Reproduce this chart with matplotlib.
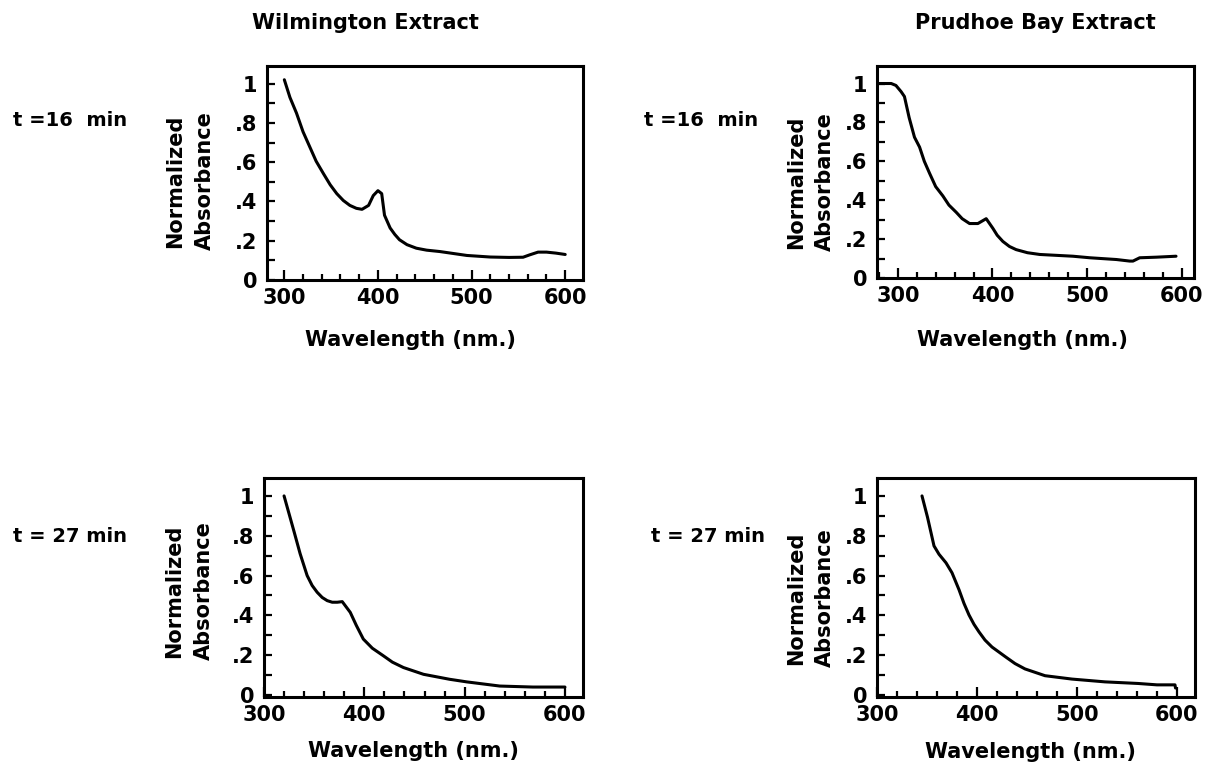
import numpy as np
import matplotlib
matplotlib.use("Agg")
from matplotlib import pyplot as plt
from matplotlib.ticker import MultipleLocator, FixedLocator

# ---- data ----
wl_wil16 = [300, 306, 313, 320, 327, 334, 342, 349, 356, 363, 370, 377, 383, 390, 395, 400,
            404, 407, 413, 418, 423, 431, 441, 452, 466, 495, 520, 540, 555, 562, 571, 580,
            590, 600]
ab_wil16 = [1.02, 0.93, 0.85, 0.755, 0.68, 0.605, 0.54, 0.485, 0.44, 0.405, 0.38, 0.365,
            0.36, 0.38, 0.43, 0.455, 0.44, 0.33, 0.265, 0.232, 0.205, 0.18, 0.162, 0.152,
            0.145, 0.125, 0.117, 0.115, 0.116, 0.128, 0.142, 0.142, 0.137, 0.13]

wl_pru16 = [279, 293, 298, 303.5, 307, 312, 317.6, 323, 328, 333.5, 340, 347.6, 354, 361.7,
            368, 375.8, 384.6, 393.4, 400.5, 405, 411, 418, 425, 437, 450, 485, 503, 531,
            545, 548.5, 555.6, 573, 594]
ab_pru16 = [1.0, 1.0, 0.99, 0.958, 0.933, 0.824, 0.724, 0.673, 0.6, 0.539, 0.47, 0.422,
            0.375, 0.338, 0.305, 0.28, 0.28, 0.305, 0.255, 0.22, 0.188, 0.162, 0.146, 0.13,
            0.121, 0.112, 0.104, 0.095, 0.087, 0.087, 0.104, 0.107, 0.112]

wl_wil27 = [320, 325, 330, 336, 343, 348, 353, 358, 363, 368, 373, 378, 386, 392, 399, 408,
            419, 428, 439, 459, 485, 502, 535, 568, 600]
ab_wil27 = [1.0, 0.91, 0.82, 0.71, 0.6, 0.55, 0.516, 0.49, 0.474, 0.466, 0.466, 0.469,
            0.415, 0.35, 0.281, 0.235, 0.197, 0.165, 0.138, 0.104, 0.079, 0.066, 0.045,
            0.04, 0.04]

wl_pru27 = [345, 350.5, 357, 362, 369, 375, 382, 387, 392, 397, 402, 408, 415, 429, 438,
            448, 468, 495, 528, 561, 580, 598, 598.5]
ab_pru27 = [1.0, 0.893, 0.749, 0.707, 0.664, 0.614, 0.529, 0.46, 0.402, 0.355, 0.317, 0.276,
            0.241, 0.19, 0.158, 0.131, 0.097, 0.08, 0.066, 0.058, 0.051, 0.051, 0.035]

ytick_vals = [0, 0.2, 0.4, 0.6, 0.8, 1.0]
ytick_labels = ["0", ".2", ".4", ".6", ".8", "1"]
xtick_vals = [300, 400, 500, 600]

W, H = 1211, 768
fig = plt.figure(figsize=(W / 100, H / 100), dpi=100)

def box(l, t, r, b):
    return [l / W, 1 - b / H, (r - l) / W, (b - t) / H]

def ftext(x, y, s, **kw):
    fig.text(x / W, 1 - y / H, s, **kw)

FONT = dict(family="DejaVu Sans", fontweight="bold")

def setup(ax, xlim, ylim):
    ax.set_xlim(xlim)
    ax.set_ylim(ylim)
    for sp in ax.spines.values():
        sp.set_linewidth(2.2)
    ax.xaxis.set_major_locator(FixedLocator(xtick_vals))
    ax.xaxis.set_minor_locator(MultipleLocator(20))
    ax.yaxis.set_major_locator(FixedLocator(ytick_vals))
    ax.yaxis.set_minor_locator(MultipleLocator(0.1))
    ax.set_yticklabels(ytick_labels)
    ax.tick_params(axis="both", which="both", direction="in", width=1.6,
                   top=False, right=False, labelsize=15)
    ax.tick_params(axis="x", which="major", length=7, pad=6)
    ax.tick_params(axis="x", which="minor", length=4)
    ax.tick_params(axis="y", which="both", length=6, pad=7)
    for lab in ax.get_xticklabels() + ax.get_yticklabels():
        lab.set_fontweight("bold")

def curve(ax, x, y):
    ax.plot(x, y, c="k", lw=2.2, solid_joinstyle="round", solid_capstyle="round")

ax1 = fig.add_axes(box(267, 66, 583, 280))
curve(ax1, wl_wil16, ab_wil16)
setup(ax1, (281.5, 619), (0, 1.09))

ax2 = fig.add_axes(box(877, 66, 1194, 278))
curve(ax2, wl_pru16, ab_pru16)
setup(ax2, (278, 613), (0, 1.09))

ax3 = fig.add_axes(box(264, 478, 583, 697))
curve(ax3, wl_wil27, ab_wil27)
setup(ax3, (300, 618), (-0.01, 1.09))

ax4 = fig.add_axes(box(877, 478, 1195, 697))
curve(ax4, wl_pru27, ab_pru27)
setup(ax4, (300, 618), (-0.01, 1.09))

# titles
ftext(365, 23, "Wilmington Extract", ha="center", va="center", fontsize=15, **FONT)
ftext(1035, 23, "Prudhoe Bay Extract", ha="center", va="center", fontsize=15, **FONT)

# time labels
ftext(13, 121, "t =16  min", ha="left", va="center", fontsize=14, **FONT)
ftext(758, 121, "t =16  min", ha="right", va="center", fontsize=14, **FONT)
ftext(13, 537, "t = 27 min", ha="left", va="center", fontsize=14, **FONT)
ftext(765, 537, "t = 27 min", ha="right", va="center", fontsize=14, **FONT)

# y labels (two lines each)
for xn, xa, yc in [(175, 205, 181), (796, 825, 182), (174, 204, 591), (796, 825, 598)]:
    ftext(xn, yc, "Normalized", ha="center", va="center", rotation=90, fontsize=15, **FONT)
    ftext(xa, yc, "Absorbance", ha="center", va="center", rotation=90, fontsize=15, **FONT)

# x labels
for xc, yc in [(410, 340), (1022, 340), (413, 751), (1030, 752)]:
    ftext(xc, yc, "Wavelength (nm.)", ha="center", va="center", fontsize=15, **FONT)

fig.savefig("out.png", dpi=100)
